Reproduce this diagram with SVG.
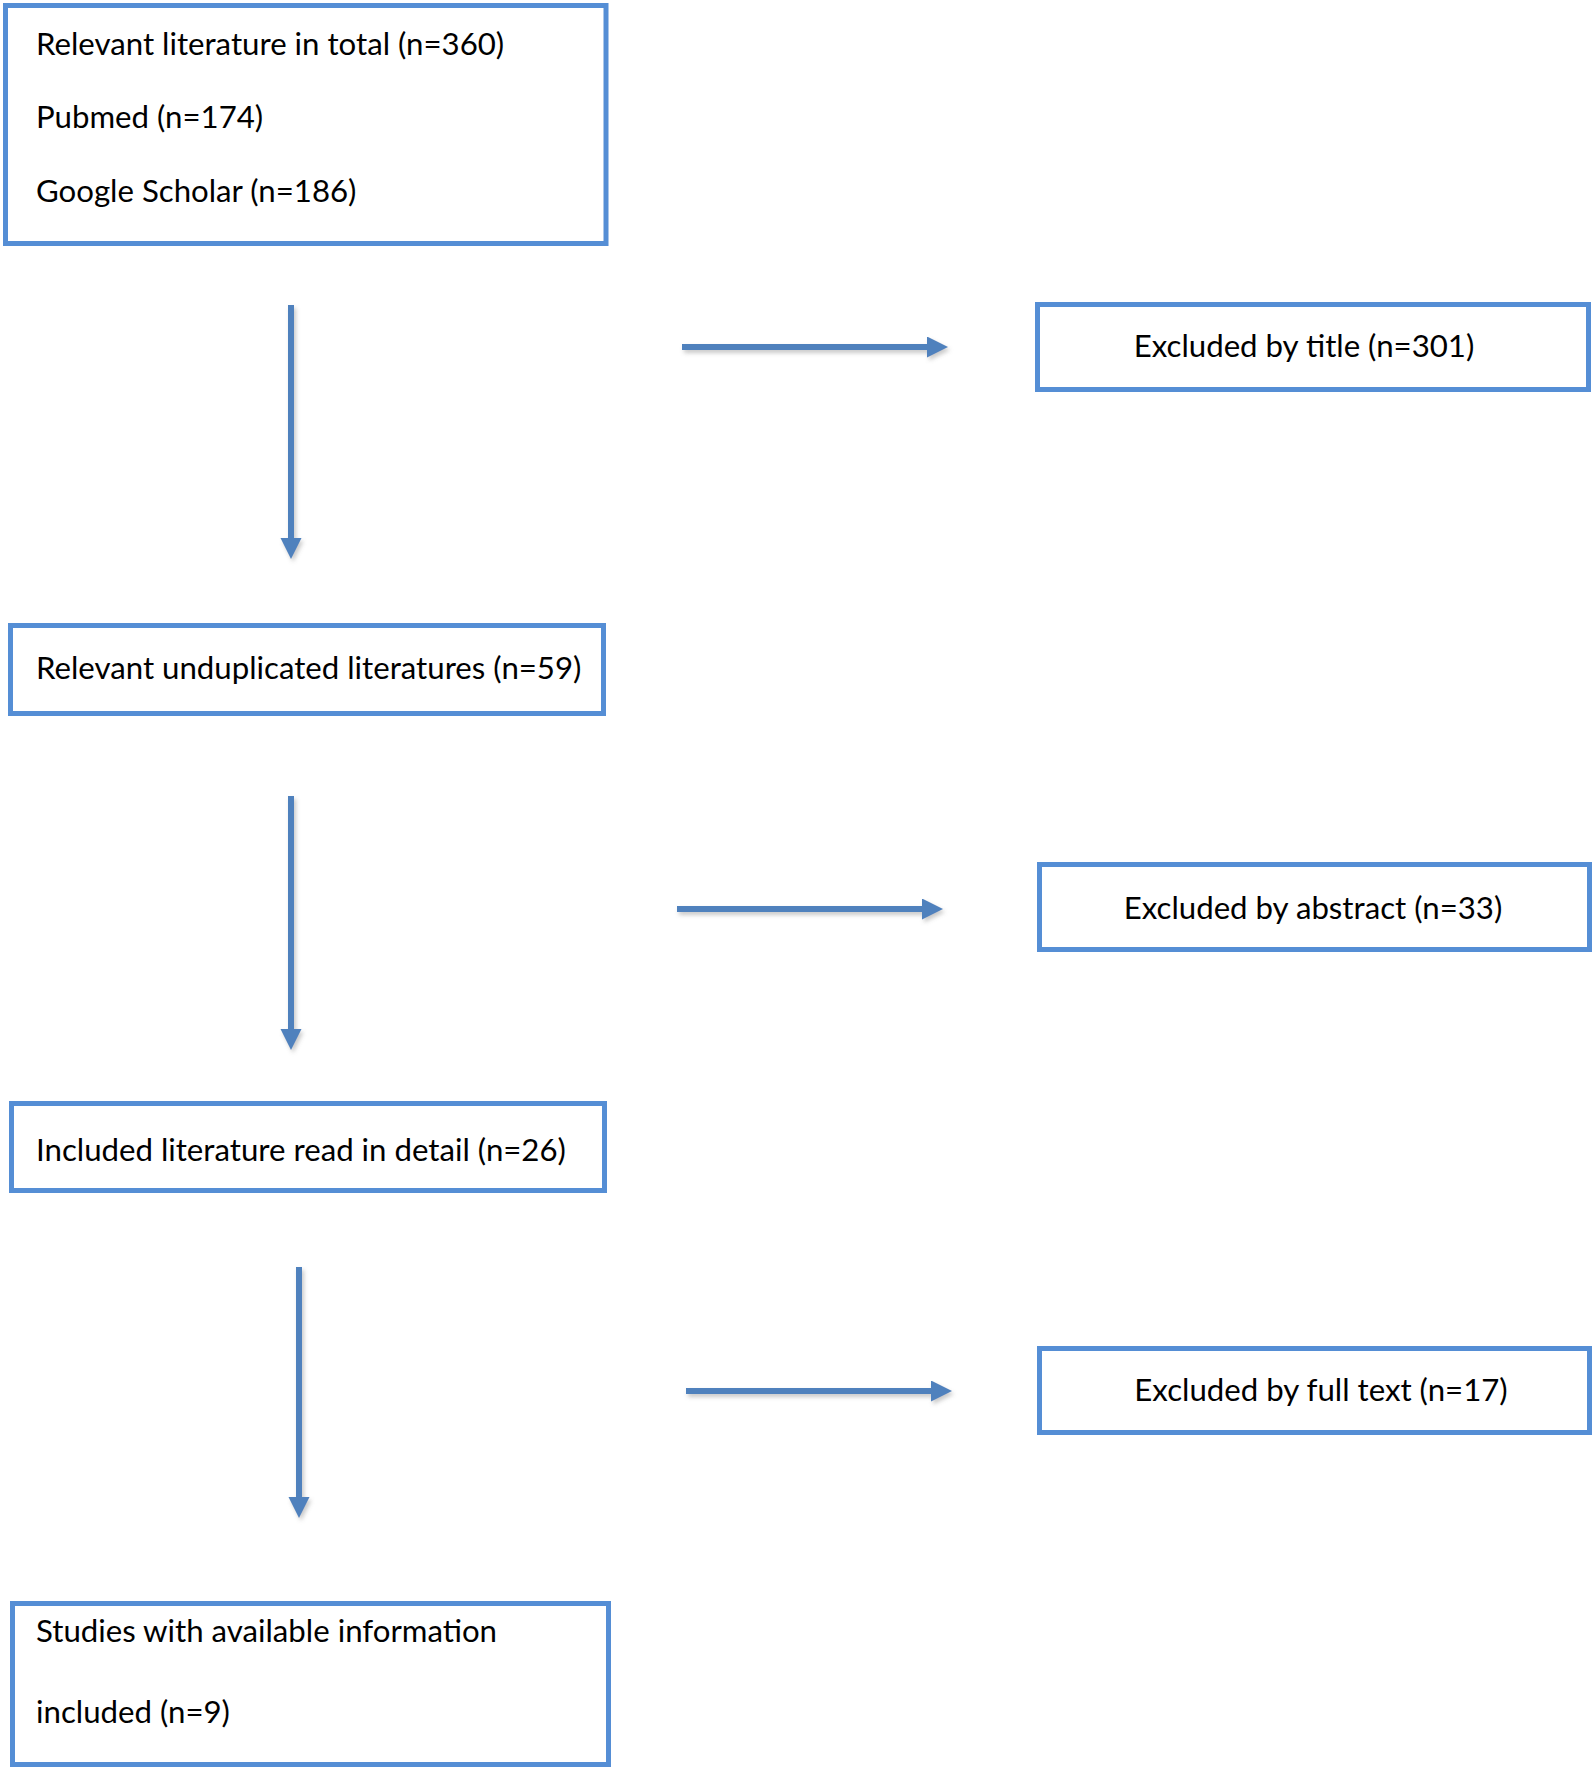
<svg xmlns="http://www.w3.org/2000/svg" width="1594" height="1770" viewBox="0 0 1594 1770">
<style>
.box{fill:#ffffff;stroke:#558ed5;stroke-width:5}
.t{font-family:Lato,"Open Sans","Liberation Sans",sans-serif;font-size:31.2px;fill:#000000}
.c{text-anchor:middle}
.arr{stroke:#4f81bd;stroke-width:6;fill:none}
</style>
<defs>
<marker id="ah" markerUnits="userSpaceOnUse" markerWidth="22" markerHeight="22" refX="0" refY="10.5" orient="auto">
<path d="M0,0 L21,10.5 L0,21 Z" fill="#4f81bd"/>
</marker>
<filter id="sh" x="-20%" y="-20%" width="140%" height="160%">
<feDropShadow dx="2" dy="3" stdDeviation="2" flood-color="#888888" flood-opacity="0.45"/>
</filter>
</defs>
<rect width="1594" height="1770" fill="#ffffff"/>
<g id="n1">
<rect class="box" x="5.5" y="5.5" width="600.5" height="238"/>
<text class="t" x="36" y="55">Relevant literature in total (n=360)</text>
<text class="t" x="36" y="128">Pubmed (n=174)</text>
<text class="t" x="36" y="202">Google Scholar (n=186)</text>
</g>
<g id="n2">
<rect class="box" x="1037.5" y="304.5" width="551" height="85"/>
<text class="t c" x="1304" y="357">Excluded by title (n=301)</text>
</g>
<g id="n3">
<rect class="box" x="10.5" y="625.5" width="593" height="88"/>
<text class="t" x="36" y="679">Relevant unduplicated literatures (n=59)</text>
</g>
<g id="n4">
<rect class="box" x="1039.5" y="864.5" width="550" height="85"/>
<text class="t c" x="1313" y="919">Excluded by abstract (n=33)</text>
</g>
<g id="n5">
<rect class="box" x="11.5" y="1103.5" width="593" height="87"/>
<text class="t" x="36" y="1161">Included literature read in detail (n=26)</text>
</g>
<g id="n6">
<rect class="box" x="1039.5" y="1348.5" width="550" height="84"/>
<text class="t c" x="1321" y="1401">Excluded by full text (n=17)</text>
</g>
<g id="n7">
<rect class="box" x="12.5" y="1603.5" width="596" height="161"/>
<text class="t" x="36" y="1642">Studies with available information</text>
<text class="t" x="36" y="1723">included (n=9)</text>
</g>
<g id="connectors" filter="url(#sh)">
<line class="arr" x1="291" y1="305" x2="291" y2="538" marker-end="url(#ah)"/>
<line class="arr" x1="682" y1="347" x2="927" y2="347" marker-end="url(#ah)"/>
<line class="arr" x1="291" y1="796" x2="291" y2="1029" marker-end="url(#ah)"/>
<line class="arr" x1="677" y1="909" x2="922" y2="909" marker-end="url(#ah)"/>
<line class="arr" x1="299" y1="1267" x2="299" y2="1497" marker-end="url(#ah)"/>
<line class="arr" x1="686" y1="1391" x2="931" y2="1391" marker-end="url(#ah)"/>
</g>
</svg>
